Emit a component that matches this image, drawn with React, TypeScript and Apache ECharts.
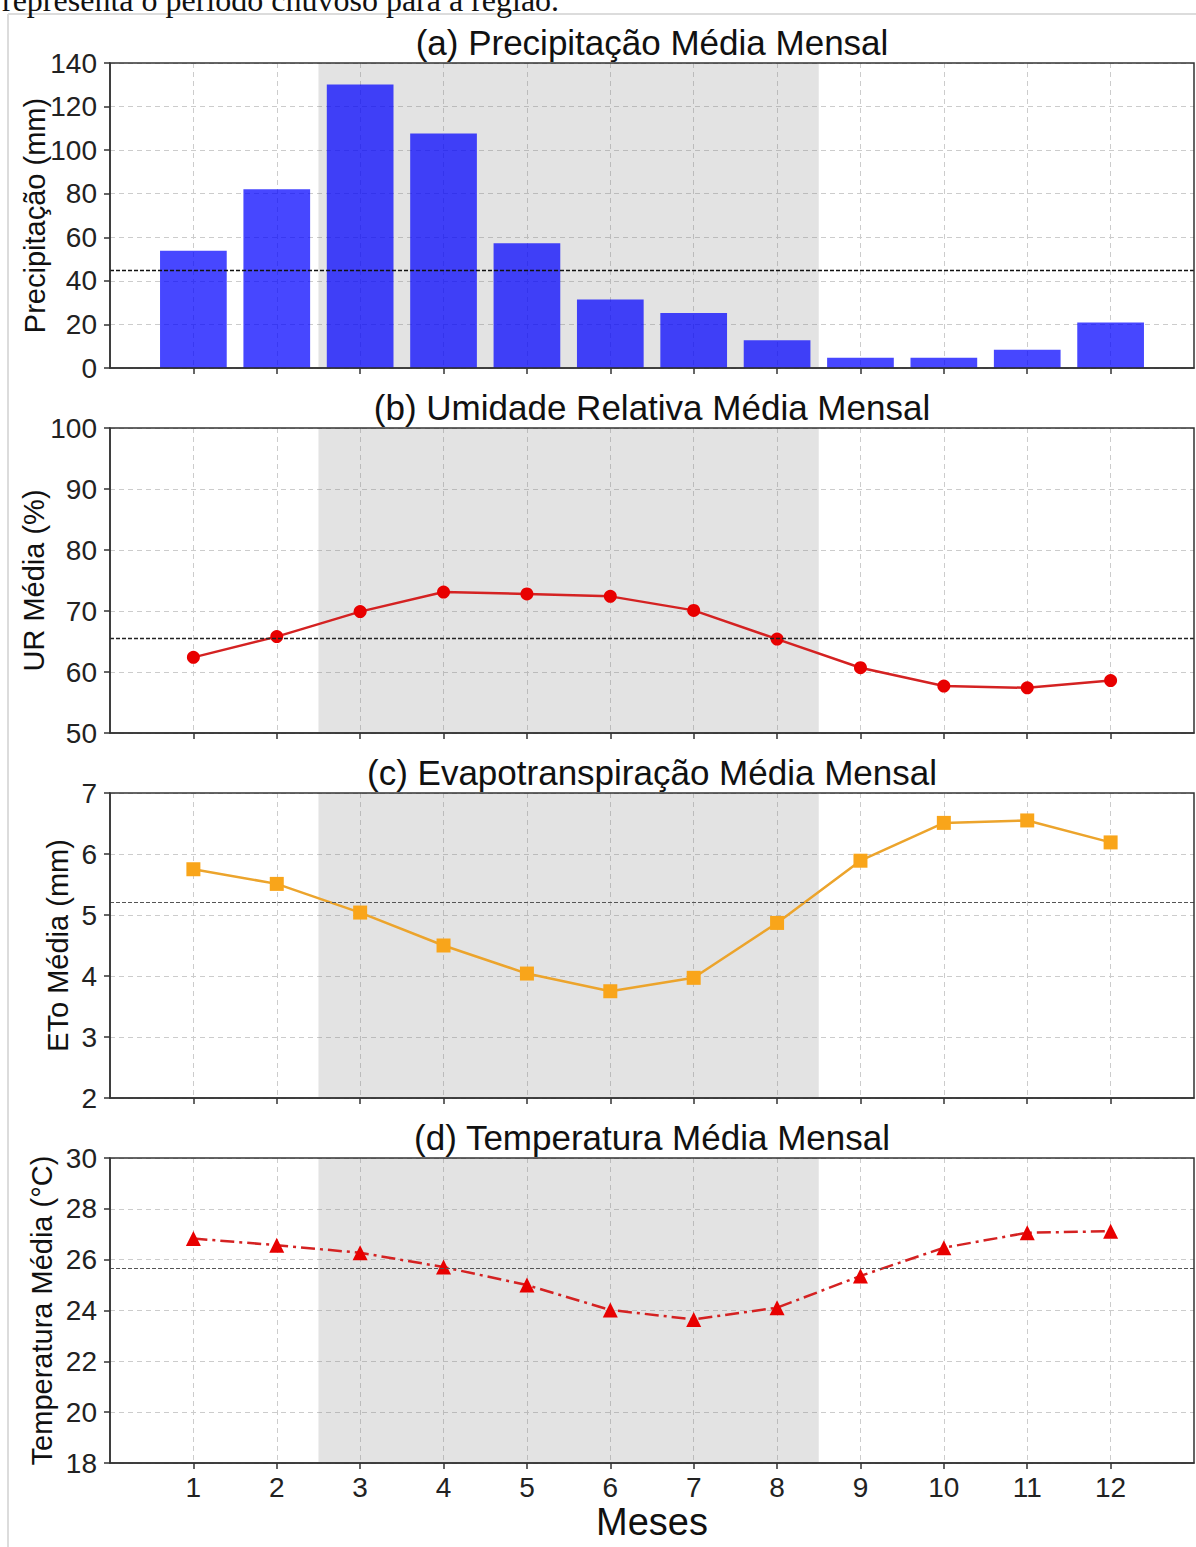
import React, { useEffect, useRef } from "react";
import * as echarts from "echarts";

// ---- data ----
const months = [1, 2, 3, 4, 5, 6, 7, 8, 9, 10, 11, 12];
const precipitation = [53.8, 82.0, 130.1, 107.6, 57.3, 31.4, 25.2, 12.7, 4.7, 4.7, 8.4, 20.9];
const humidity = [62.4, 65.8, 69.9, 73.1, 72.8, 72.4, 70.1, 65.4, 60.7, 57.7, 57.4, 58.6];
const evapotranspiration = [5.75, 5.51, 5.04, 4.5, 4.04, 3.75, 3.97, 4.87, 5.89, 6.51, 6.55, 6.19];
const temperature = [26.83, 26.57, 26.27, 25.71, 25.0, 24.02, 23.65, 24.11, 25.36, 26.47, 27.06, 27.12];
const rainyPeriod = [2.5, 8.5];

const panelTitles = [
  "(a) Precipitação Média Mensal",
  "(b) Umidade Relativa Média Mensal",
  "(c) Evapotranspiração Média Mensal",
  "(d) Temperatura Média Mensal",
];
const yNames = ["Precipitação (mm)", "UR Média (%)", "ETo Média (mm)", "Temperatura Média (°C)"];
const yMin = [0, 50, 2, 18];
const yMax = [140, 100, 7, 30];
const yStep = [20, 10, 1, 2];
const xName = "Meses";
const captionTail = "representa o período chuvoso para a região.";

// ---- layout ----
const W = 1196;
const H = 1547;
const GRID_LEFT = 110;
const GRID_RIGHT = 2;
const GRID_TOPS = [63, 428, 793, 1158];
const GRID_H = 305;
const Y_NAME_GAPS = [61, 62, 38, 54];
const FONT = '"Liberation Sans", Arial, Helvetica, sans-serif';
const AXIS_COLOR = "#333";

const pairs = (vals: number[]) => months.map((m, i) => [m, vals[i]]);

export default function App() {
  const ref = useRef<HTMLDivElement>(null);

  useEffect(() => {
    if (!ref.current) return;
    const chart = echarts.init(ref.current, undefined, { renderer: "svg" });

    const grids = GRID_TOPS.map((t) => ({
      left: GRID_LEFT,
      right: GRID_RIGHT,
      top: t,
      height: GRID_H,
      show: true,
      borderColor: AXIS_COLOR,
      borderWidth: 1.5,
      backgroundColor: "transparent",
      z: 10,
    }));

    const splitLine = {
      show: true,
      lineStyle: { color: "#cccccc", type: [5, 4], width: 1 },
    };

    const xAxes = GRID_TOPS.map((_, i) => ({
      type: "value",
      gridIndex: i,
      min: 0,
      max: 13,
      interval: 1,
      axisLine: { show: true, onZero: false, lineStyle: { color: AXIS_COLOR, width: 1.5 } },
      axisTick: { show: true, customValues: months, length: 6, lineStyle: { color: AXIS_COLOR, width: 1.5 } },
      axisLabel: {
        show: i === 3,
        customValues: months,
        fontSize: 28,
        color: "#222",
        fontFamily: FONT,
        margin: 10,
      },
      splitLine,
      name: i === 3 ? xName : "",
      nameLocation: "middle",
      nameGap: 40,
      nameMoveOverlap: false,
      nameTextStyle: { fontSize: 38, color: "#111", fontFamily: FONT },
    }));

    const yAxes = GRID_TOPS.map((_, i) => ({
      type: "value",
      gridIndex: i,
      min: yMin[i],
      max: yMax[i],
      interval: yStep[i],
      axisLine: { show: true, lineStyle: { color: AXIS_COLOR, width: 1.5 } },
      axisTick: { show: true, length: 6, lineStyle: { color: AXIS_COLOR, width: 1.5 } },
      axisLabel: { fontSize: 28, color: "#222", fontFamily: FONT, margin: 13 },
      splitLine,
      name: yNames[i],
      nameLocation: "middle",
      nameGap: Y_NAME_GAPS[i],
      nameMoveOverlap: false,
      nameTextStyle: { fontSize: 29, color: "#111", fontFamily: FONT },
    }));

    const meanLine = (color: string, width: number) => ({
      silent: true,
      symbol: "none",
      label: { show: false },
      lineStyle: { color, type: [4, 2], width },
      data: [{ type: "average" }],
    });

    const shadeSeries = GRID_TOPS.map((_, i) => ({
      type: "line",
      xAxisIndex: i,
      yAxisIndex: i,
      data: [],
      silent: true,
      z: 1,
      markArea: {
        silent: true,
        itemStyle: { color: "rgba(128,128,128,0.22)" },
        data: [[{ xAxis: rainyPeriod[0] }, { xAxis: rainyPeriod[1] }]],
      },
    }));

    const option = {
      animation: false,
      backgroundColor: "#ffffff",
      grid: grids,
      xAxis: xAxes,
      yAxis: yAxes,
      series: [
        ...shadeSeries,
        {
          type: "bar",
          xAxisIndex: 0,
          yAxisIndex: 0,
          data: pairs(precipitation),
          barWidth: "80%",
          itemStyle: { color: "rgba(0,0,255,0.72)" },
          z: 3,
          markLine: meanLine("#111", 1.3),
        },
        {
          type: "line",
          xAxisIndex: 1,
          yAxisIndex: 1,
          data: pairs(humidity),
          symbol: "circle",
          symbolSize: 13,
          itemStyle: { color: "#e80000" },
          lineStyle: { color: "#d42222", width: 2.5 },
          z: 3,
          markLine: meanLine("#222", 1.3),
        },
        {
          type: "line",
          xAxisIndex: 2,
          yAxisIndex: 2,
          data: pairs(evapotranspiration),
          symbol: "rect",
          symbolSize: 14,
          itemStyle: { color: "#f9a51a" },
          lineStyle: { color: "#eca42c", width: 2.5 },
          z: 3,
          markLine: meanLine("#555", 1.1),
        },
        {
          type: "line",
          xAxisIndex: 3,
          yAxisIndex: 3,
          data: pairs(temperature),
          symbol: "triangle",
          symbolSize: 15,
          itemStyle: { color: "#e80000" },
          lineStyle: { color: "#d42222", width: 2.5, type: [14, 5, 3, 5] },
          z: 3,
          markLine: meanLine("#555", 1.1),
        },
      ],
      graphic: [
        {
          type: "line",
          silent: true,
          shape: { x1: 8, y1: 14, x2: W, y2: 14 },
          style: { stroke: "#dcdcdc", lineWidth: 2 },
        },
        {
          type: "line",
          silent: true,
          shape: { x1: 8, y1: 14, x2: 8, y2: H },
          style: { stroke: "#dcdcdc", lineWidth: 2 },
        },
        {
          type: "text",
          silent: true,
          x: 2,
          y: 0,
          style: {
            text: captionTail,
            font: '32px "Liberation Serif", "Times New Roman", serif',
            fill: "#111",
            textAlign: "left",
            textVerticalAlign: "middle",
          },
        },
        ...panelTitles.map((t, i) => ({
          type: "text",
          silent: true,
          x: GRID_LEFT + (W - GRID_LEFT - GRID_RIGHT) / 2,
          y: GRID_TOPS[i] - 21,
          style: {
            text: t,
            font: `35px ${FONT}`,
            fill: "#111",
            textAlign: "center",
            textVerticalAlign: "middle",
          },
        })),
      ],
    };

    chart.setOption(option as any);
    return () => chart.dispose();
  }, []);

  return (
    <div
      ref={ref}
      style={{ position: "absolute", left: 0, top: 0, width: W, height: H, background: "#fff" }}
    />
  );
}
